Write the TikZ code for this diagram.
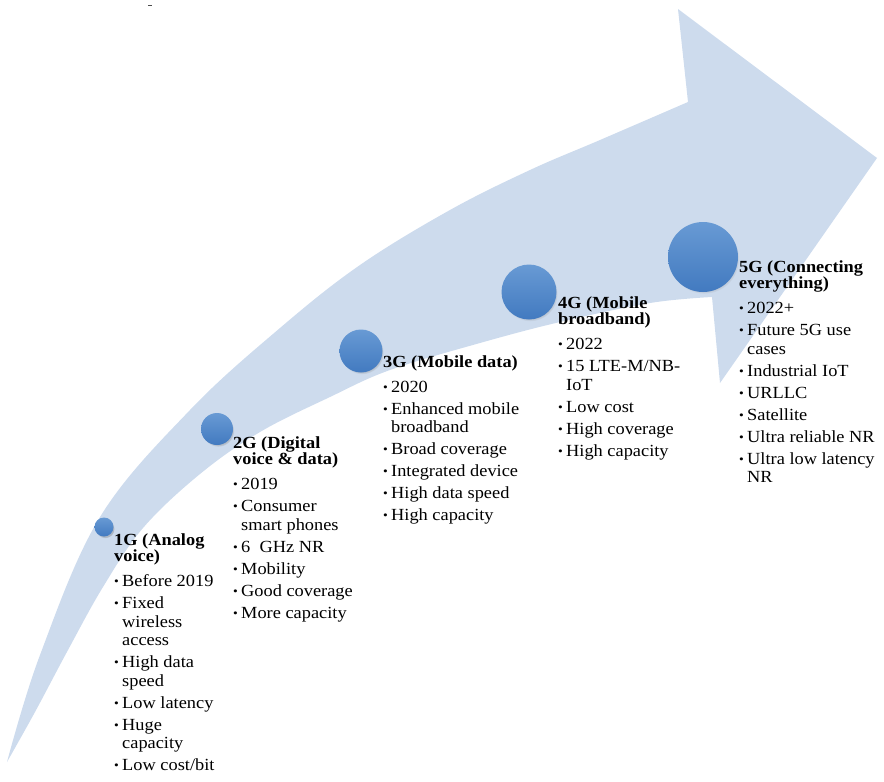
\documentclass[tikz,border=0pt]{standalone}
\usepackage{fontspec}
\setmainfont{Liberation Serif}[FakeStretch=1.08]
\usetikzlibrary{shadows}
\definecolor{band}{RGB}{205,219,237}
\definecolor{ballTop}{RGB}{104,154,212}
\definecolor{ballBot}{RGB}{66,122,192}
\newcommand\gtitle[1]{\hbox{\bfseries #1}}
\newcommand\gitem[1]{\vskip 3.5pt\hbox{\makebox[8pt][l]{\raisebox{0.6pt}{\fontsize{12.5}{12}\selectfont\textbullet}}#1}}
\newcommand\gcont[1]{\hbox{\hspace{8pt}#1}}
\newcommand\gcol[1]{\vtop{\baselineskip=18.5pt\lineskiplimit=-20pt\lineskip=0pt #1}}
\tikzset{
  gen/.style={anchor=base west, inner sep=0pt, font=\fontsize{17}{18.5}\selectfont},
  ball/.style={circle, inner sep=0pt, top color=ballTop, bottom color=ballBot,
    circular drop shadow={shadow xshift=1.2pt, shadow yshift=-1.8pt, fill=black!55, opacity=0.35, shadow scale=1.0}},
}
\begin{document}
\begin{tikzpicture}[x=1pt,y=-1pt]
\useasboundingbox (0,0) rectangle (884,782);
% curved arrow
\fill[band] plot[smooth, tension=0.6] coordinates {(7,762) (40,655) (100,517) (190,410) (280,328) (360,265) (450,210) (530,170) (600,140) (688,102)}
  -- (678,9) -- (877,158) -- (720,383) -- (712,297)
  -- plot[smooth, tension=0.6] coordinates {(712,297) (650,303) (560,322) (480,343) (390,370) (330,397) (260,432) (200,474) (143,528) (103,587) (68,650) (35,712) (7,762)} -- cycle;
% small mark at top
\draw[black!70, line width=0.8pt] (148,5) -- (152,5);
% circles
\node[ball, minimum size=19pt] (c1) at (104,527) {};
\node[ball, minimum size=32pt] (c2) at (217,429) {};
\node[ball, minimum size=43pt] (c3) at (361,351) {};
\node[ball, minimum size=55pt] (c4) at (529,292) {};
\node[ball, minimum size=70pt] (c5) at (703,257) {};
% texts
\node[gen] (t1) at (114,545) {\gcol{%
  \gtitle{1G (Analog}\vskip-2pt\gtitle{voice)}\vskip3pt
  \gitem{Before 2019}
  \gitem{Fixed}\gcont{wireless}\gcont{access}
  \gitem{High data}\gcont{speed}
  \gitem{Low latency}
  \gitem{Huge}\gcont{capacity}
  \gitem{Low cost/bit}}};
\node[gen] (t2) at (233,448) {\gcol{%
  \gtitle{2G (Digital}\vskip-2pt\gtitle{voice \& data)}\vskip3pt
  \gitem{2019}
  \gitem{Consumer}\gcont{smart phones}
  \gitem{6\ \ GHz NR}
  \gitem{Mobility}
  \gitem{Good coverage}
  \gitem{More capacity}}};
\node[gen] (t3) at (383,367) {\gcol{%
  \gtitle{3G (Mobile data)}\vskip3pt
  \gitem{2020}
  \gitem{Enhanced mobile}\gcont{broadband}
  \gitem{Broad coverage}
  \gitem{Integrated device}
  \gitem{High data speed}
  \gitem{High capacity}}};
\node[gen] (t4) at (558,308) {\gcol{%
  \gtitle{4G (Mobile}\vskip-2pt\gtitle{broadband)}\vskip3pt
  \gitem{2022}
  \gitem{15 LTE-M/NB-}\gcont{IoT}
  \gitem{Low cost}
  \gitem{High coverage}
  \gitem{High capacity}}};
\node[gen] (t5) at (739,272) {\gcol{%
  \gtitle{5G (Connecting}\vskip-2pt\gtitle{everything)}\vskip3pt
  \gitem{2022+}
  \gitem{Future 5G use}\gcont{cases}
  \gitem{Industrial IoT}
  \gitem{URLLC}
  \gitem{Satellite}
  \gitem{Ultra reliable NR}
  \gitem{Ultra low latency}\gcont{NR}}};
\end{tikzpicture}
\end{document}
